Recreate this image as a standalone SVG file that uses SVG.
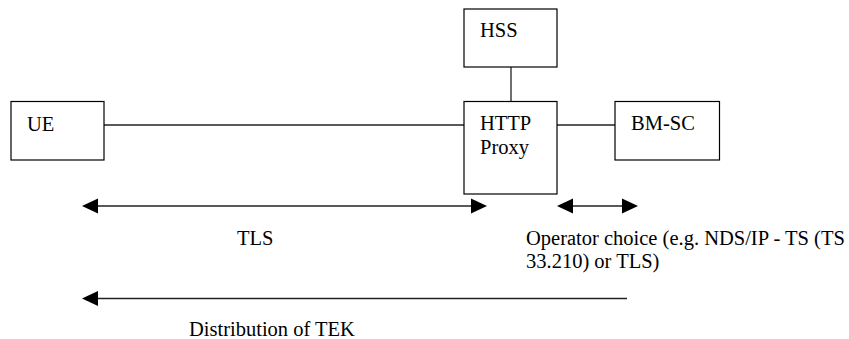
<svg xmlns="http://www.w3.org/2000/svg" width="849" height="339" viewBox="0 0 849 339">
<rect width="849" height="339" fill="#fff"/>
<g id="connectors" stroke="#222" stroke-width="1.3" fill="none">
<line x1="104" y1="125" x2="464" y2="125"/>
<line x1="511" y1="67" x2="511" y2="102"/>
<line x1="557" y1="125" x2="615" y2="125"/>
<line x1="96" y1="206" x2="473" y2="206"/>
<line x1="571" y1="206" x2="624" y2="206"/>
<line x1="96" y1="298.5" x2="627" y2="298.5"/>
<g fill="#000" stroke="none">
<polygon points="82,206 98,198.5 98,213.5"/>
<polygon points="487,206 471,198.5 471,213.5"/>
<polygon points="557,206 573,198.5 573,213.5"/>
<polygon points="638,206 622,198.5 622,213.5"/>
<polygon points="82,298.5 98,291 98,306"/>
</g>
</g>
<g font-family="Liberation Serif, serif" font-size="20.5" fill="#000">
<g id="ue">
<rect x="11" y="101.5" width="93" height="58.5" fill="#fff" stroke="#000" stroke-width="1.2"/>
<text x="27" y="131">UE</text>
</g>
<g id="hss">
<rect x="464" y="9" width="93" height="58" fill="#fff" stroke="#000" stroke-width="1.2"/>
<text x="480" y="37">HSS</text>
</g>
<g id="proxy">
<rect x="464" y="101.5" width="93" height="92.5" fill="#fff" stroke="#000" stroke-width="1.2"/>
<text x="480" y="130">HTTP</text>
<text x="480" y="154">Proxy</text>
</g>
<g id="bmsc">
<rect x="615" y="101.5" width="104.5" height="58.5" fill="#fff" stroke="#000" stroke-width="1.2"/>
<text x="631" y="130">BM-SC</text>
</g>
<g id="labels">
<text x="237" y="245">TLS</text>
<text x="526" y="245">Operator choice (e.g. NDS/IP - TS (TS</text>
<text x="526" y="268">33.210) or TLS)</text>
<text x="189" y="336">Distribution of TEK</text>
</g>
</g>
</svg>
